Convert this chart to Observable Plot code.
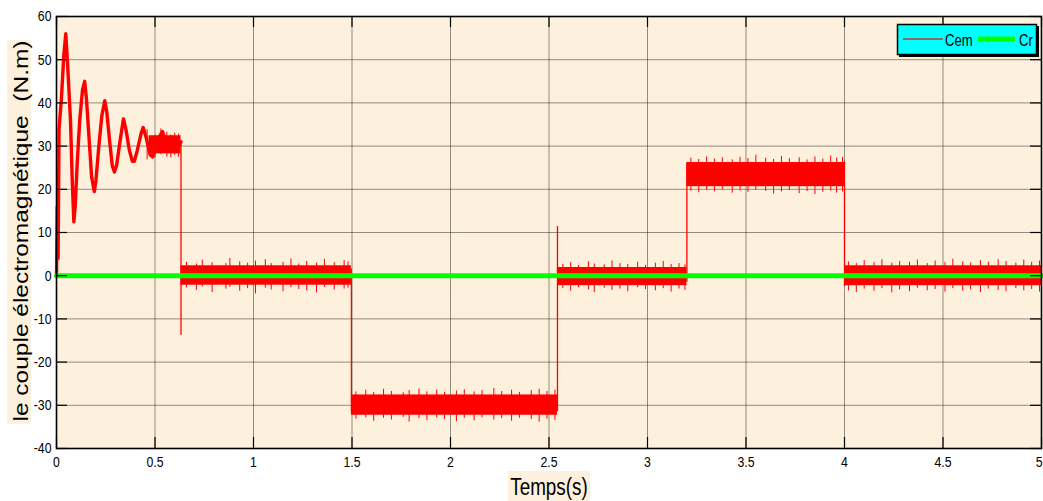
<!DOCTYPE html>
<html>
<head>
<meta charset="utf-8">
<script src="https://cdn.jsdelivr.net/npm/d3@7"></script>
<script src="https://cdn.jsdelivr.net/npm/@observablehq/plot@0.6"></script>
<style>
  body { margin: 0; background: #fff; }
  #chart svg { display: block; }
</style>
</head>
<body>
<div id="chart"></div>
<script>
// ---- tick labels ----
const xTicks = [0, 0.5, 1, 1.5, 2, 2.5, 3, 3.5, 4, 4.5, 5];
const yTicks = [-40, -30, -20, -10, 0, 10, 20, 30, 40, 50, 60];

// ---- Cem : start-up oscillation (time s, torque N.m) ----
const oscT = [0, 0.004, 0.008, 0.013, 0.025, 0.037, 0.047, 0.055, 0.062, 0.071, 0.08, 0.088,
  0.095, 0.105, 0.118, 0.132, 0.143, 0.152, 0.165, 0.178, 0.192, 0.2, 0.215, 0.23, 0.245,
  0.255, 0.27, 0.283, 0.294, 0.305, 0.322, 0.34, 0.352, 0.37, 0.385, 0.395, 0.41, 0.43,
  0.44, 0.455, 0.475, 0.488, 0.505, 0.52, 0.538, 0.555, 0.58, 0.6, 0.62, 0.632];
const oscV = [0, 16, 4, 34, 41, 51, 56, 50, 44, 36, 22, 12.5,
  16, 26, 36, 43, 45, 41, 32, 23, 19.5, 22, 30, 37, 40.5,
  38, 31, 25.5, 24, 25.5, 31, 36.3, 34, 29, 26.5, 26.5, 29, 33,
  34.3, 32, 28, 27.5, 29.5, 32, 33.4, 31, 29, 30.5, 30, 31];

// ---- Cem : noisy plateaus (start, end, low, high) ----
const bandStart = [0.47, 0.632, 1.497, 2.543, 3.2, 4.0];
const bandEnd   = [0.632, 1.497, 2.543, 3.2, 4.0, 5.0];
const bandLow   = [28.2, -2.2, -32.3, -2.3, 20.6, -2.3];
const bandHigh  = [32.4, 2.3, -27.6, 1.9, 26.2, 2.3];

// ---- Cem : switching transitions (time, low, high) ----
const stepT    = [0.632, 1.497, 2.543, 3.2, 4.0];
const stepLow  = [-13.8, -31.5, -31.5, -1.5, -2.5];
const stepHigh = [31, 1.5, 11.4, 26, 26.5];

// ---- Cem : noise spikes (time, low, high) ----
const spikeT = [
  0.46, 0.5, 0.53, 0.56, 0.58, 0.6, 0.62,
  0.66, 0.71, 0.74, 0.79, 0.86, 0.88, 0.93, 0.97, 1.01, 1.06, 1.09, 1.15, 1.19, 1.23, 1.27, 1.32, 1.36, 1.41, 1.46, 1.48,
  1.52, 1.57, 1.61, 1.66, 1.7, 1.76, 1.79, 1.84, 1.88, 1.93, 1.97, 2.03, 2.07, 2.12, 2.16, 2.22, 2.26, 2.31, 2.35, 2.41, 2.45, 2.49, 2.53,
  2.57, 2.61, 2.65, 2.7, 2.73, 2.78, 2.82, 2.86, 2.9, 2.95, 2.99, 3.04, 3.08, 3.12, 3.16, 3.19,
  3.22, 3.26, 3.3, 3.34, 3.38, 3.43, 3.47, 3.51, 3.55, 3.6, 3.64, 3.68, 3.72, 3.77, 3.81, 3.85, 3.89, 3.93, 3.96, 3.99,
  4.02, 4.06, 4.1, 4.15, 4.19, 4.24, 4.28, 4.33, 4.37, 4.42, 4.46, 4.51, 4.55, 4.6, 4.64, 4.69, 4.73, 4.78, 4.82, 4.87, 4.91, 4.95, 4.99];
const spikeLow = [
  26.8, 27.2, 28, 27.5, 27.3, 27.8, 27.4,
  -2.8, -3.4, -2.6, -3.9, -3.1, -2.7, -3.6, -3.0, -4.2, -2.9, -3.3, -3.7, -2.8, -3.2, -3.5, -4.0, -2.7, -3.3, -3.1, -2.9,
  -33.2, -32.9, -33.7, -33.0, -33.4, -32.8, -33.9, -33.1, -33.5, -32.9, -33.3, -33.8, -33.0, -33.6, -32.9, -33.4, -33.1, -33.7, -33.0, -33.3, -33.9, -33.2, -33.5,
  -3.0, -3.6, -2.8, -3.3, -3.9, -2.9, -3.4, -3.1, -3.7, -2.8, -3.2, -3.5, -3.0, -3.8, -3.1, -3.4,
  19.6, 19.2, 19.8, 19.4, 19.9, 19.1, 19.6, 19.3, 19.8, 19.5, 18.9, 19.4, 19.7, 19.0, 19.5, 18.8, 19.3, 19.6, 19.1, 19.4,
  -3.5, -3.9, -3.1, -3.6, -3.0, -4.0, -3.3, -3.7, -2.9, -3.5, -3.2, -3.8, -3.0, -3.6, -3.3, -3.9, -3.1, -3.4, -3.7, -3.0, -3.5, -3.2, -3.8];
const spikeHigh = [
  33.8, 32.5, 34, 33.2, 32.6, 33, 32.8,
  3.1, 2.7, 3.6, 3.0, 2.8, 4.0, 3.2, 2.9, 3.4, 3.7, 2.8, 3.1, 3.9, 2.7, 3.3, 2.9, 3.8, 3.0, 3.5, 3.2,
  -26.9, -26.5, -27.0, -26.3, -26.8, -27.1, -26.6, -26.2, -26.9, -26.5, -27.0, -26.7, -26.4, -26.9, -26.6, -26.1, -26.8, -26.5, -27.0, -26.6, -26.3, -26.8, -26.5,
  2.6, 3.0, 2.4, 3.2, 2.7, 2.5, 3.4, 2.8, 2.6, 3.1, 2.4, 2.9, 3.3, 2.6, 2.8, 2.5,
  27.2, 26.9, 27.5, 27.0, 27.3, 26.8, 27.4, 27.1, 27.9, 27.2, 26.9, 27.6, 27.1, 27.3, 26.8, 27.5, 27.0, 27.7, 27.2, 27.4,
  3.2, 2.8, 3.5, 3.0, 3.7, 2.9, 3.3, 3.1, 3.6, 2.8, 3.4, 3.0, 3.8, 3.2, 2.9, 3.5, 3.1, 3.7, 3.3, 2.9, 3.6, 3.1, 3.4];

// ---- Cr : load torque reference ----
const crT = [0, 5];
const crV = [0, 0];

// ---- tables built from the arrays ----
const osc = oscT.map((t, i) => ({t, v: oscV[i]}));
const bands = bandStart.map((t0, i) => ({t0, t1: bandEnd[i], lo: bandLow[i], hi: bandHigh[i]}));
const steps = stepT.map((t, i) => ({t, lo: stepLow[i], hi: stepHigh[i]}));
const spikes = spikeT.map((t, i) => ({t, lo: spikeLow[i], hi: spikeHigh[i]}));
const cr = crT.map((t, i) => ({t, v: crV[i]}));

const BEIGE = "#fdf0dc";
const RED = "#ff0000";
const GREEN = "#00ff00";
const SANS = "'Liberation Sans', Arial, Helvetica, sans-serif";
const SQUEEZE = 0.82;

const W = 1043, H = 501, mL = 56, mR = 2, mT = 16, mB = 53;
const plotW = W - mL - mR, plotH = H - mT - mB;
const tickLen = 11;

const chart = Plot.plot({
  width: W, height: H,
  marginLeft: mL, marginRight: mR, marginTop: mT, marginBottom: mB,
  style: {background: "#fff", fontFamily: SANS, fontSize: "15px", color: "#000"},
  x: {domain: [0, 5]},
  y: {domain: [-40, 60]},
  marks: [
    Plot.frame({fill: BEIGE, stroke: "none"}),
    Plot.gridX({ticks: xTicks, stroke: "#000", strokeOpacity: 0.42, strokeWidth: 1}),
    Plot.gridY({ticks: yTicks, stroke: "#000", strokeOpacity: 0.42, strokeWidth: 1}),
    Plot.rect(bands, {x1: "t0", x2: "t1", y1: "lo", y2: "hi", fill: RED}),
    Plot.ruleX(spikes, {x: "t", y1: "lo", y2: "hi", stroke: RED, strokeWidth: 1}),
    Plot.ruleX(steps, {x: "t", y1: "lo", y2: "hi", stroke: RED, strokeWidth: 1.3}),
    Plot.line(osc, {x: "t", y: "v", stroke: RED, strokeWidth: 3.4, strokeLinejoin: "round"}),
    Plot.line(cr, {x: "t", y: "v", stroke: GREEN, strokeWidth: 5}),
    Plot.tickX(xTicks, {x: d => d, insetTop: plotH - tickLen, stroke: "#000", strokeWidth: 1.2}),
    Plot.tickX(xTicks, {x: d => d, insetBottom: plotH - tickLen, stroke: "#000", strokeWidth: 1.2}),
    Plot.tickY(yTicks, {y: d => d, insetRight: plotW - tickLen, stroke: "#000", strokeWidth: 1.2}),
    Plot.tickY(yTicks, {y: d => d, insetLeft: plotW - tickLen, stroke: "#000", strokeWidth: 1.2}),
    Plot.frame({stroke: "#000", strokeWidth: 1.6}),
    Plot.axisX({ticks: xTicks, tickSize: 0, tickPadding: 8, tickFormat: d => String(d), label: null, fontSize: 15}),
    Plot.axisY({ticks: yTicks, tickSize: 0, tickPadding: 5, tickFormat: d => String(d), label: null, fontSize: 15})
  ]
});
document.getElementById("chart").appendChild(chart);

const svg = d3.select(chart);

// condense the tick labels horizontally (the reference is squeezed)
svg.selectAll('g[aria-label="x-axis tick label"] text, g[aria-label="y-axis tick label"] text').each(function() {
  const t = d3.select(this);
  const tr = t.attr("transform") || "";
  t.attr("transform", tr + ` scale(${SQUEEZE},1)`);
});
// keep the last x label inside the picture
const xLabels = svg.selectAll('g[aria-label="x-axis tick label"] text').nodes();
if (xLabels.length) {
  const last = d3.select(xLabels[xLabels.length - 1]);
  const m = /translate\(([^,]+),([^)]+)\)/.exec(last.attr("transform"));
  if (m) last.attr("transform", `translate(${W - 1},${m[2]}) scale(${SQUEEZE},1)`).attr("text-anchor", "end");
}

// y-axis title
svg.append("rect").attr("x", 7).attr("y", 40).attr("width", 24).attr("height", 384).attr("fill", BEIGE);
svg.append("text")
  .attr("transform", "translate(28,231) scale(0.85,1) rotate(-90)")
  .attr("text-anchor", "middle")
  .style("font-family", SANS)
  .style("font-size", "24.5px")
  .style("white-space", "pre")
  .attr("fill", "#000")
  .text("le couple électromagnétique  (N.m)");

// x-axis title
svg.append("rect").attr("x", 508).attr("y", 471).attr("width", 82).attr("height", 30).attr("fill", BEIGE);
svg.append("text")
  .attr("transform", `translate(549,495) scale(${SQUEEZE},1)`)
  .attr("text-anchor", "middle")
  .style("font-family", SANS)
  .style("font-size", "23px")
  .attr("fill", "#000")
  .text("Temps(s)");

// legend
const lg = svg.append("g").attr("text-anchor", "start");
lg.append("rect").attr("x", 899).attr("y", 26).attr("width", 140).attr("height", 31).attr("fill", "#000");
lg.append("rect").attr("x", 897.5).attr("y", 24.5).attr("width", 139).attr("height", 30).attr("fill", "#00ffff").attr("stroke", "#000").attr("stroke-width", 1.5);
lg.append("line").attr("x1", 903).attr("x2", 943).attr("y1", 39).attr("y2", 39).attr("stroke", "#c83030").attr("stroke-width", 1.5);
lg.append("text").attr("text-anchor", "start").attr("transform", `translate(945,46) scale(${SQUEEZE},1)`).style("font-family", SANS).style("font-size", "16px").attr("fill", "#000").text("Cem");
lg.append("line").attr("x1", 978).attr("x2", 1015).attr("y1", 39).attr("y2", 39).attr("stroke", GREEN).attr("stroke-width", 5);
lg.append("text").attr("text-anchor", "start").attr("transform", `translate(1019,46) scale(${SQUEEZE},1)`).style("font-family", SANS).style("font-size", "16px").attr("fill", "#000").text("Cr");
</script>
</body>
</html>
